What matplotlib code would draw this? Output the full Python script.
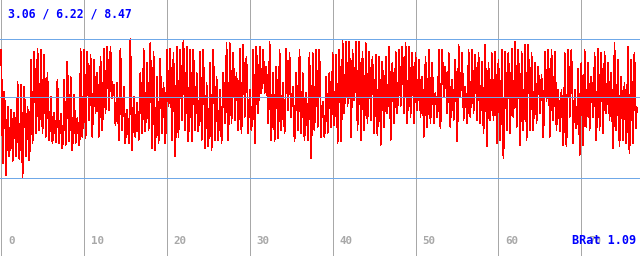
import numpy as np
import matplotlib
matplotlib.use("Agg")
import matplotlib.pyplot as plt

# valeurs : paires (haut, bas) tous les ~3 px
seg_a = [8.05, 3.62, 6.42, 3.17, 5.84, 3.90, 5.70, 3.69, 5.60, 3.88,
         6.81, 3.80, 6.68, 3.06, 6.60, 3.90, 5.84, 3.75, 7.66, 4.40,
         7.98, 4.80, 8.09, 4.90, 8.05, 4.80, 7.85, 4.66, 7.14, 4.53,
         6.23, 4.40, 5.60, 4.45, 6.88, 4.40, 5.57, 4.21, 6.88, 4.34,
         7.59, 4.47, 7.01, 4.14, 6.30, 4.40, 5.38, 4.34, 8.11, 4.66,
         8.05, 4.60, 7.98, 5.30, 7.85, 4.66, 7.66, 5.57, 7.14, 4.66,
         7.79, 4.92, 8.11, 5.57, 8.18, 5.70]
seg_b = [8.18, 6.16, 6.68, 5.12, 6.75, 4.53, 8.11, 4.92, 6.62, 4.40,
         5.70, 4.40, 8.47, 4.14, 6.23, 4.66, 5.97, 4.53, 7.14, 4.79,
         8.11, 4.86, 7.53, 4.92, 8.31, 4.21, 7.98, 4.14, 7.01, 4.40,
         7.72, 4.79, 6.75, 4.40, 8.05, 5.84, 8.11, 4.53, 7.92, 3.88,
         8.18, 4.66, 8.05, 5.31, 8.44, 4.92, 8.18, 4.47, 8.05, 4.47,
         8.05, 4.92, 7.14, 4.86, 7.98, 4.53, 8.05, 4.21, 6.75, 4.27,
         7.53, 4.14, 8.05, 4.53, 7.01, 4.53]
seg_c = [6.49, 4.40, 7.14, 5.18, 8.31, 4.53, 8.31, 5.18, 7.92, 5.31,
         7.14, 4.92, 8.11, 4.79, 8.24, 5.44, 7.79, 4.79, 6.49, 4.92,
         8.05, 4.40, 8.18, 5.57, 8.18, 6.36, 8.05, 6.36, 7.40, 5.18,
         8.38, 4.53, 7.14, 4.47, 7.40, 4.60, 8.05, 4.92, 6.75, 4.79,
         8.11, 5.70, 7.92, 5.44, 6.62, 4.47, 7.14, 4.92, 8.05, 4.79,
         7.14, 4.53, 6.36, 4.53, 7.92, 3.82, 7.92, 4.92, 8.05, 5.05,
         8.05, 4.66, 6.03, 4.66, 7.01, 4.79]
seg_d = [7.14, 5.05, 7.92, 5.12, 7.85, 4.40, 8.05, 4.47, 8.44, 5.57,
         8.38, 5.84, 8.38, 4.66, 8.05, 6.10, 8.38, 4.92, 8.38, 4.53,
         7.98, 4.92, 8.31, 5.18, 7.98, 5.31, 7.79, 4.79, 7.85, 4.73,
         7.79, 4.34, 7.59, 5.05, 7.79, 5.57, 8.18, 4.53, 7.53, 5.18,
         7.98, 5.57, 8.05, 5.84, 8.18, 5.57, 8.31, 5.18, 8.18, 5.44,
         7.92, 5.18, 7.92, 5.70, 7.66, 5.44, 7.01, 4.66, 7.79, 5.05,
         8.05, 5.18, 7.53, 5.18, 6.36, 5.44]
seg_e = [8.05, 4.99, 8.05, 6.23, 7.40, 5.57, 7.92, 5.05, 6.88, 5.31,
         7.66, 4.47, 8.24, 6.23, 7.92, 5.31, 6.62, 5.18, 8.05, 5.44,
         8.05, 5.57, 7.85, 5.31, 7.92, 5.18, 7.59, 4.79, 8.24, 4.27,
         7.53, 5.31, 7.92, 5.31, 7.98, 4.40, 7.66, 4.53, 8.05, 3.82,
         7.98, 4.92, 7.92, 4.79, 8.11, 5.44, 8.38, 5.05, 8.05, 4.34,
         7.98, 4.92, 8.24, 4.53, 8.24, 4.92, 7.92, 4.92, 7.53, 5.18,
         7.40, 5.57, 7.07, 4.66, 7.98, 6.03]
seg_f = [8.05, 4.66, 8.05, 5.31, 7.98, 4.92, 6.49, 4.86, 6.49, 4.34,
         7.92, 4.27, 8.05, 5.44, 8.05, 4.40, 6.49, 4.99, 7.33, 3.95,
         7.53, 4.34, 8.05, 5.05, 7.53, 4.92, 7.01, 5.44, 7.92, 4.53,
         8.11, 4.92, 7.92, 4.79, 7.98, 5.57, 7.53, 5.31, 7.14, 4.21,
         8.31, 4.92, 7.66, 4.27, 7.01, 4.53, 6.75, 4.40, 8.18, 4.01,
         7.66, 4.40, 7.92, 4.99]

# valeurs intermediaires (coeur de la bande) : paires (haut, bas)
core_a = [6.6, 4.8, 5.6, 4.3, 5.4, 4.4, 5.3, 4.2, 5.2, 4.5,
          5.6, 4.4, 5.5, 4.2, 5.7, 4.6, 5.2, 4.3, 6.4, 5.0,
          6.9, 5.4, 7.2, 5.6, 7.0, 5.5, 6.5, 5.2, 6.0, 5.0,
          5.6, 4.8, 5.2, 4.7, 5.9, 4.9, 5.1, 4.6, 5.8, 4.8,
          6.3, 5.0, 5.8, 4.7, 5.6, 4.8, 5.0, 4.6, 6.8, 5.3,
          7.0, 5.4, 7.1, 5.9, 6.9, 5.5, 7.0, 6.0, 6.4, 5.4,
          6.9, 5.6, 7.3, 6.2, 7.4, 6.3]
core_b = [7.4, 6.6, 6.1, 5.5, 6.0, 5.1, 7.0, 5.6, 5.8, 5.0,
          5.3, 4.8, 6.8, 5.0, 5.8, 5.1, 5.6, 5.0, 6.4, 5.4,
          7.0, 5.6, 6.7, 5.5, 7.0, 5.2, 6.7, 5.0, 6.0, 5.0,
          6.5, 5.4, 5.9, 5.0, 7.3, 6.3, 7.0, 5.5, 6.5, 5.0,
          7.1, 5.6, 7.2, 6.0, 7.4, 5.8, 7.0, 5.5, 6.9, 5.4,
          7.0, 5.7, 6.3, 5.4, 6.8, 5.3, 6.6, 5.1, 5.8, 4.9,
          6.2, 5.0, 6.8, 5.3, 6.1, 5.2]
core_c = [5.8, 5.0, 6.5, 5.6, 7.1, 5.5, 7.3, 6.0, 7.0, 6.0,
          6.4, 5.5, 7.0, 5.7, 7.3, 6.2, 6.8, 5.6, 6.0, 5.3,
          6.8, 5.4, 7.3, 6.2, 7.6, 6.8, 7.5, 6.8, 6.7, 5.8,
          7.0, 5.5, 6.2, 5.2, 6.4, 5.3, 7.0, 5.7, 6.1, 5.3,
          7.3, 6.3, 7.0, 6.1, 5.9, 5.0, 6.4, 5.5, 7.0, 5.7,
          6.3, 5.2, 5.8, 5.0, 6.5, 5.0, 6.9, 5.7, 7.0, 5.8,
          6.9, 5.6, 5.6, 5.0, 6.2, 5.3]
core_d = [6.4, 5.6, 6.9, 5.8, 6.6, 5.3, 6.8, 5.4, 7.5, 6.3,
          7.5, 6.5, 7.2, 5.8, 7.4, 6.6, 7.3, 5.9, 7.1, 5.6,
          7.0, 5.8, 7.3, 6.1, 7.1, 6.1, 6.8, 5.7, 6.8, 5.7,
          6.6, 5.3, 6.7, 5.8, 7.0, 6.2, 7.0, 5.6, 6.7, 5.9,
          7.2, 6.2, 7.3, 6.4, 7.3, 6.3, 7.3, 6.1, 7.3, 6.2,
          7.0, 6.0, 7.1, 6.3, 6.9, 6.1, 6.2, 5.4, 6.9, 5.8,
          7.1, 6.0, 6.7, 5.9, 6.0, 5.7]
core_e = [7.0, 5.8, 7.4, 6.7, 6.8, 6.1, 7.0, 5.9, 6.4, 5.7,
          6.6, 5.4, 7.5, 6.7, 7.0, 6.0, 6.1, 5.6, 7.2, 6.1,
          7.2, 6.3, 7.0, 6.1, 7.0, 6.0, 6.6, 5.6, 6.8, 5.3,
          6.7, 5.9, 7.0, 6.0, 6.7, 5.4, 6.6, 5.4, 6.5, 5.0,
          6.9, 5.8, 6.8, 5.7, 7.2, 6.2, 7.2, 6.0, 6.8, 5.4,
          6.9, 5.8, 7.0, 5.6, 7.1, 5.8, 6.9, 5.8, 6.7, 5.9,
          6.8, 6.1, 6.2, 5.4, 7.3, 6.6]
core_f = [6.9, 5.6, 7.1, 6.1, 6.9, 5.8, 5.9, 5.3, 5.7, 5.0,
          6.6, 5.3, 7.2, 6.2, 6.8, 5.5, 6.0, 5.4, 6.1, 4.9,
          6.4, 5.2, 7.0, 5.9, 6.6, 5.6, 6.5, 5.9, 6.7, 5.5,
          7.0, 5.8, 6.8, 5.7, 7.1, 6.2, 6.8, 6.0, 6.1, 5.0,
          7.1, 5.8, 6.4, 5.2, 6.2, 5.2, 5.9, 5.0, 6.6, 5.0,
          6.5, 5.3, 6.9, 5.8]

x_step = 0.1
x_ticks = [0, 10, 20, 30, 40, 50, 60, 70]
val_min, val_avg, val_max = 3.06, 6.22, 8.47
brat = 1.09

seg = np.array(seg_a + seg_b + seg_c + seg_d + seg_e + seg_f)
core = np.array(core_a + core_b + core_c + core_d + core_e + core_f)
# ordre : haut, coeur haut, bas, coeur bas
values = np.column_stack([seg[0::2], core[0::2], seg[1::2], core[1::2]]).ravel()
x = np.arange(len(values)) * x_step

fig = plt.figure(figsize=(6.4, 2.56), dpi=100)
ax = fig.add_axes([0, 0, 1, 1])
ax.set_xlim(-0.12, 77.08)
ax.set_ylim(0, 10)
ax.axis('off')

for xt in x_ticks:
    ax.axvline(xt, color='#a8a8a8', lw=0.72, zorder=1, antialiased=False)
    ax.text(xt + 0.85, 0.59, str(xt), color='#a8a8a8', fontsize=7.8,
            family='DejaVu Sans Mono', fontweight='bold', ha='left', va='center', zorder=4)

ax.plot(x, values, color='#ff0000', lw=0.5, zorder=2, antialiased=False)

for v in (val_min, val_avg, val_max):
    ax.axhline(v, color='#6fa8e8', lw=0.72, zorder=3, antialiased=False)

ax.text(0.85, 9.45, f"{val_min:.2f} / {val_avg:.2f} / {val_max:.2f}", color='#0000ff',
        fontsize=8.3, family='DejaVu Sans Mono', fontweight='bold', ha='left', va='center')
ax.text(76.6, 0.59, f"BRat {brat:.2f}", color='#0000ff', fontsize=8.5,
        family='DejaVu Sans Mono', fontweight='bold', ha='right', va='center', zorder=5)

fig.savefig('out.png', dpi=100, facecolor='white')
